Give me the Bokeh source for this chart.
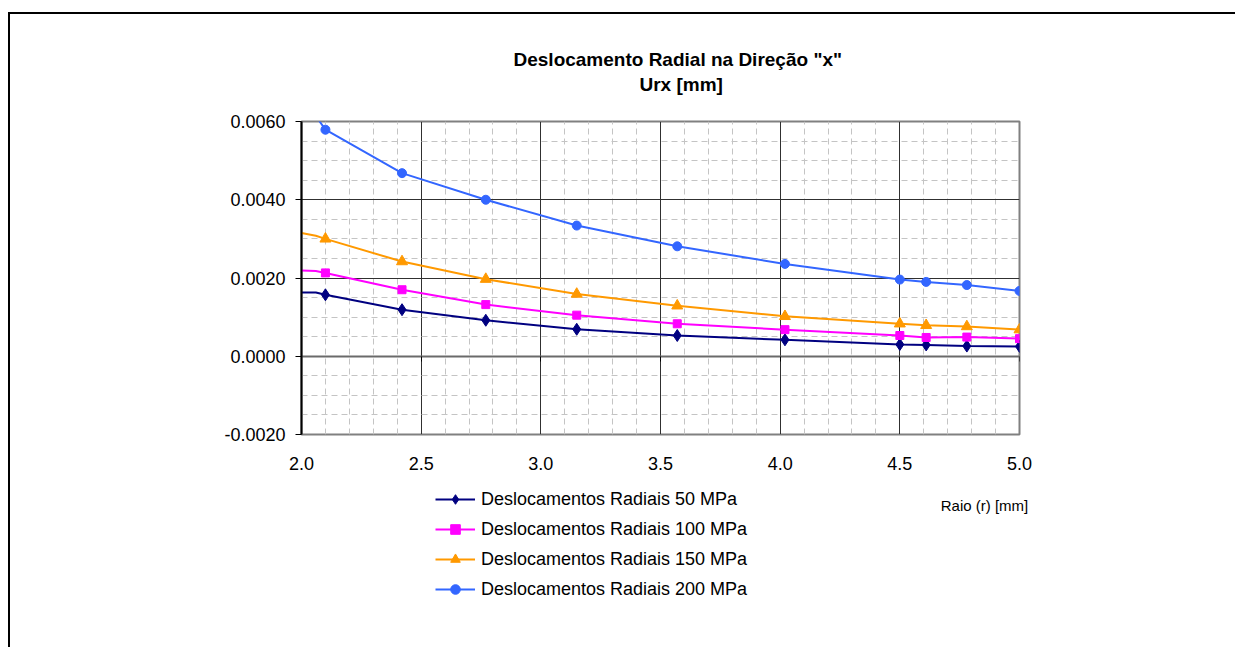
from bokeh.plotting import figure
from bokeh.layouts import column
from bokeh.models import (Range1d, FixedTicker, NumeralTickFormatter, LinearAxis, Title,
                          Legend, LegendItem, CustomJSTickFormatter, Label)
from bokeh.embed import file_html
from bokeh.resources import INLINE

# ---- data ----
r_points = [2.10, 2.42, 2.77, 3.15, 3.57, 4.02, 4.50, 4.61, 4.78, 5.00]
u50 = [0.00157, 0.00119, 0.00092, 0.00069, 0.00053, 0.00042, 0.00030, 0.00029, 0.00026, 0.00025]
u100 = [0.00213, 0.00170, 0.00132, 0.00105, 0.00083, 0.00068, 0.00053, 0.00048, 0.00049, 0.00045]
u150 = [0.00300, 0.00242, 0.00197, 0.00159, 0.00129, 0.00102, 0.00083, 0.00079, 0.00076, 0.00068]
u200 = [0.00579, 0.00468, 0.00400, 0.00334, 0.00281, 0.00236, 0.00196, 0.00190, 0.00182, 0.00167]

# start of each trend line at r = 2.0 (left edge of the chart)
r_line_start = [2.00, 2.06]
u50_start = [0.00163, 0.00163]
u100_start = [0.00219, 0.00218]
u150_start = [0.00315, 0.00308]
u200_start = [0.00690, 0.00614]

series_names = ["Deslocamentos Radiais 50 MPa", "Deslocamentos Radiais 100 MPa",
                "Deslocamentos Radiais 150 MPa", "Deslocamentos Radiais 200 MPa"]
colors = ["#000080", "#FF00FF", "#FF9900", "#3366FF"]
markers = ["diamond", "square", "triangle", "circle"]
marker_sizes = [12, 8, 11, 9]

x_ticks = [2.0, 2.5, 3.0, 3.5, 4.0, 4.5, 5.0]
x_minor = [round(2.0 + 0.1 * i, 2) for i in range(31)]
y_ticks = [-0.002, 0.0, 0.002, 0.004, 0.006]
y_minor = [round(-0.002 + 0.0005 * i, 5) for i in range(17)]

title_1 = 'Deslocamento Radial na Direção "x"'
title_2 = "Urx [mm]"
x_label = "Raio (r) [mm]"

FONT = "Liberation Sans"
W = 1225
FL = 291  # main frame left inside the canvas

# ---------------- main chart ----------------
p = figure(frame_width=718, frame_height=313,
           min_border_left=FL, min_border_right=W - FL - 718,
           min_border_top=107, min_border_bottom=45,
           x_range=Range1d(2.0, 5.0), y_range=Range1d(-0.002, 0.006),
           output_backend="svg", toolbar_location=None)

p.background_fill_color = "white"
p.border_fill_color = "white"
p.outline_line_color = "#808080"
p.outline_line_width = 2

xt = FixedTicker(ticks=x_ticks, minor_ticks=x_minor)
yt = FixedTicker(ticks=y_ticks, minor_ticks=y_minor)
p.xaxis.ticker = xt
p.yaxis.ticker = yt
p.xaxis.formatter = NumeralTickFormatter(format="0.0")
p.yaxis.formatter = NumeralTickFormatter(format="0.0000")
for ax in (p.xaxis, p.yaxis):
    ax.major_label_text_font = FONT
    ax.major_label_text_font_size = "18px"
    ax.major_label_text_color = "black"
    ax.minor_tick_line_color = None
    ax.major_tick_in = 0
p.xaxis.axis_line_color = None
p.xaxis.major_tick_line_color = None
p.xaxis.major_tick_out = 0
p.xaxis.major_label_standoff = 18
p.yaxis.axis_line_color = "black"
p.yaxis.axis_line_width = 2
p.yaxis.major_tick_out = 6
p.yaxis.major_tick_line_color = "black"
p.yaxis.major_label_standoff = 10

# horizontal axis crossing at zero
zero_axis = LinearAxis(fixed_location=0, ticker=xt,
                       formatter=CustomJSTickFormatter(code="return ''"))
zero_axis.axis_line_color = "#6a6a6a"
zero_axis.axis_line_width = 2
zero_axis.major_tick_in = 0
zero_axis.major_tick_out = 5
zero_axis.major_tick_line_color = "black"
zero_axis.minor_tick_line_color = None
zero_axis.major_label_text_font_size = "1px"
zero_axis.major_label_standoff = 0
p.add_layout(zero_axis, "below")

for g in (p.xgrid, p.ygrid):
    g.grid_line_color = "#303030"
    g.grid_line_width = 1
    g.minor_grid_line_color = "#c4c4c4"
    g.minor_grid_line_dash = "6 4"
    g.minor_grid_line_width = 1

all_u = [u50, u100, u150, u200]
all_start = [u50_start, u100_start, u150_start, u200_start]
for u, u0, c, m, s in zip(all_u, all_start, colors, markers, marker_sizes):
    p.line(r_line_start + r_points, u0 + u, line_color=c, line_width=2)
    p.scatter(r_points, u, marker=m, size=s, fill_color=c, line_color=c)

# titles: items in p.above stack outward from the frame; p.title is outermost
spacer = Title(text=" ", text_font_size="2px", standoff=23)
p.add_layout(spacer, "above")
t2 = Title(text=title_2, align="left", offset=338, text_font=FONT, text_font_size="19px",
           text_font_style="bold", text_color="black", standoff=0)
p.add_layout(t2, "above")
p.title.text = title_1
p.title.align = "left"
p.title.offset = 212
p.title.text_font = FONT
p.title.text_font_size = "19px"
p.title.text_font_style = "bold"
p.title.text_color = "black"
p.title.standoff = 4

# ---------------- legend strip under the chart ----------------
H2 = 168
OFF = 1000.0  # strip coordinates: canvas pixel + OFF (keeps the series themselves out of view)
p2 = figure(width=W, height=H2, x_axis_type=None, y_axis_type=None, min_border=0,
            output_backend="svg", toolbar_location=None)
if "frame_align" in p2.properties():
    p.frame_align = False
    p2.frame_align = False
    fl, fr = 0, W
else:
    fl, fr = FL + 1, FL + 1 + 718
p2.x_range = Range1d(OFF + fl, OFF + fr)
p2.y_range = Range1d(H2, 0)
p2.outline_line_color = None
p2.background_fill_color = "white"
p2.border_fill_color = "white"

items = []
for name, u, c, m, s in zip(series_names, all_u, colors, markers, marker_sizes):
    lr = p2.line(r_points, u, line_color=c, line_width=2)
    sr = p2.scatter(r_points, u, marker=m, size=s, fill_color=c, line_color=c)
    items.append(LegendItem(label=name, renderers=[lr, sr]))

legend = Legend(items=items, location=(425 - fl, 46))
legend.glyph_width = 40
legend.glyph_height = 24
legend.label_height = 24
legend.spacing = 6
legend.label_standoff = 6
legend.padding = 0
legend.margin = 0
legend.border_line_color = None
legend.background_fill_alpha = 0
legend.label_text_font = FONT
legend.label_text_font_size = "18px"
legend.label_text_color = "black"
p2.add_layout(legend, "center")

p2.add_layout(Label(x=OFF + 974, y=26, text=x_label, text_font=FONT, text_font_size="15px",
                    text_align="center", text_baseline="middle", text_color="black"))

layout = column(p, p2, spacing=0)
layout.styles = {"border-left": "2px solid black", "border-top": "2px solid black",
                 "margin-top": "12px", "margin-left": "8px"}

open("out.html", "w").write(file_html(layout, INLINE))
